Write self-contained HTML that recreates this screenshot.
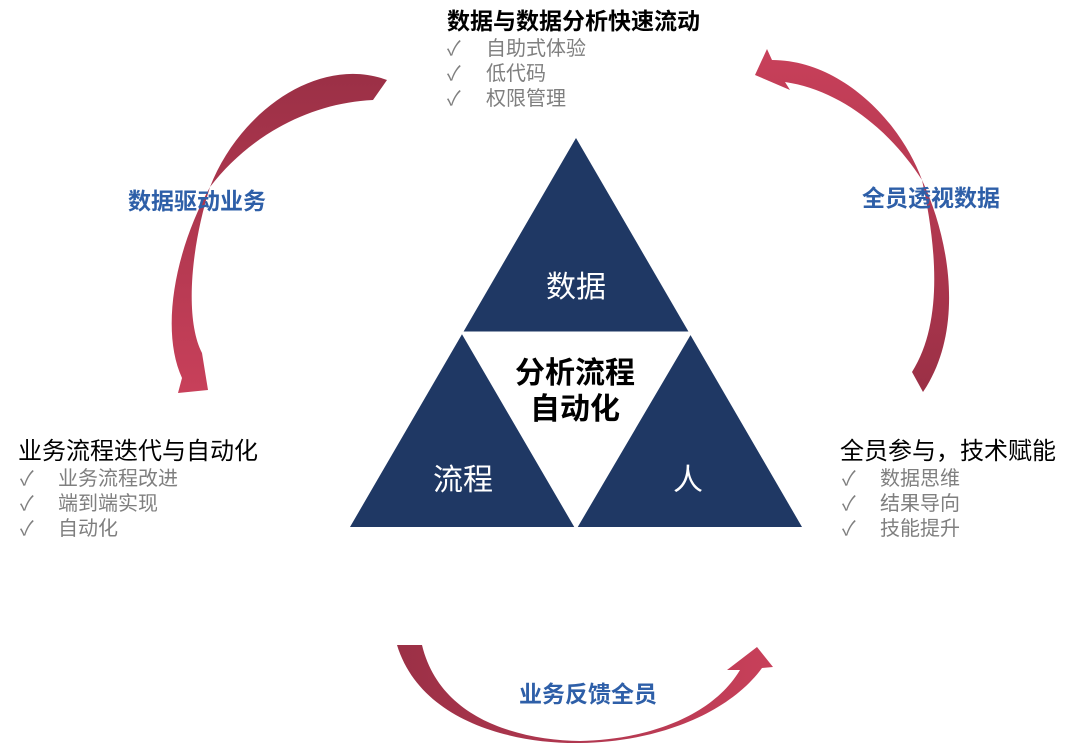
<!DOCTYPE html>
<html><head><meta charset="utf-8"><style>
body{margin:0;width:1080px;height:753px;background:#fff;overflow:hidden;font-family:"Liberation Sans","Noto Sans CJK SC",sans-serif;}
svg{position:absolute;left:0;top:0}
</style></head><body>
<svg width="1080" height="753" viewBox="0 0 1080 753" font-family="Liberation Sans, Noto Sans CJK SC, sans-serif">
<defs>
<linearGradient id="g1" x1="0" y1="0" x2="0" y2="1"><stop offset="0" stop-color="#9b3046"/><stop offset="1" stop-color="#c8405a"/></linearGradient>
<linearGradient id="g2" x1="0" y1="1" x2="0" y2="0"><stop offset="0" stop-color="#9b3046"/><stop offset="1" stop-color="#c8405a"/></linearGradient>
<linearGradient id="g3" x1="0" y1="0" x2="1" y2="0"><stop offset="0" stop-color="#9b3046"/><stop offset="1" stop-color="#c8405a"/></linearGradient>
</defs>
<path d="M387,80 C320,55 240,110 210,187 C175,250 160,330 182,378 L178,393 L208,390 L202,353 C185,320 190,250 210,187 C250,135 310,103 373,100 Z" fill="url(#g1)"/>
<path d="M772,60 C840,60 900,120 922,180 C950,240 965,330 923,392 L912,372 C945,320 935,240 922,180 C890,130 840,90 785,82 L790,90 L755,75 L767,49 Z" fill="url(#g2)"/>
<path d="M397,645 C420,720 510,744 580,743 C660,742 730,712 762,668 L773,667 L757,647 L727,670 L740,670 C710,720 640,740 580,741 C520,740 440,720 422,645 Z" fill="url(#g3)"/>
<polygon points="576,138 802,527 350,527" fill="#1f3864"/>
<polygon points="463,333 690,333 576,527" fill="#fff" stroke="#fff" stroke-width="3"/>
<text x="576" y="297" fill="#fff" font-size="30" text-anchor="middle">数据</text>
<text x="463" y="490" fill="#fff" font-size="30" text-anchor="middle">流程</text>
<text x="688" y="490" fill="#fff" font-size="30" text-anchor="middle">人</text>
<text x="575" y="383" fill="#000" font-size="30" font-weight="bold" text-anchor="middle">分析流程</text>
<text x="575" y="419" fill="#000" font-size="30" font-weight="bold" text-anchor="middle">自动化</text>
<g fill="#2e5fa8" font-size="23" font-weight="bold" text-anchor="middle">
<text x="197" y="209">数据驱动业务</text>
<text x="931" y="206">全员透视数据</text>
<text x="588" y="702">业务反馈全员</text>
</g>
<text x="447" y="29" font-size="23" font-weight="bold" fill="#000">数据与数据分析快速流动</text>
<g font-size="20" fill="#7f7f7f">
<text x="447" y="55">✓</text><text x="486" y="55">自助式体验</text>
<text x="447" y="80">✓</text><text x="486" y="80">低代码</text>
<text x="447" y="105">✓</text><text x="486" y="105">权限管理</text>
<text x="20" y="485">✓</text><text x="58" y="485">业务流程改进</text>
<text x="20" y="510">✓</text><text x="58" y="510">端到端实现</text>
<text x="20" y="535">✓</text><text x="58" y="535">自动化</text>
<text x="842" y="485">✓</text><text x="880" y="485">数据思维</text>
<text x="842" y="510">✓</text><text x="880" y="510">结果导向</text>
<text x="842" y="535">✓</text><text x="880" y="535">技能提升</text>
</g>
<text x="18" y="459" font-size="24" fill="#000">业务流程迭代与自动化</text>
<text x="840" y="459" font-size="24" fill="#000">全员参与，技术赋能</text>
</svg>
</body></html>
